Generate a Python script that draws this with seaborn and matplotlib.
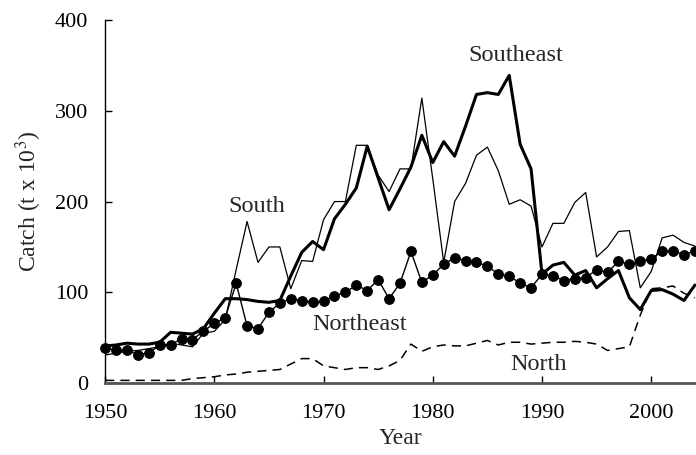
import numpy as np
import pandas as pd
import matplotlib
matplotlib.use("Agg")
import matplotlib.pyplot as plt
import seaborn as sns

years = list(range(1950, 2005))

southeast = [41, 42, 44, 43, 43, 45, 56, 55, 54, 60,
             77, 93, 93, 92, 90, 89, 91, 118, 144, 156,
             147, 181, 197, 215, 261, 226, 191, 214, 238, 273,
             243, 266, 250, 283, 318, 320, 318, 339, 263, 236,
             120, 130, 133, 119, 124, 105, 115, 124, 94, 81,
             102, 103, 98, 91, 108]

south = [31, 33, 35, 36, 38, 40, 44, 42, 40, 55,
         57, 70, 125, 178, 133, 150, 150, 104, 135, 134,
         180, 200, 200, 262, 262, 229, 211, 236, 236, 314,
         225, 133, 200, 220, 251, 260, 234, 197, 202, 195,
         150, 176, 176, 199, 210, 139, 150, 167, 168, 105,
         123, 160, 163, 155, 151]

northeast = [39, 36, 36, 31.5, 33, 42, 42, 49, 48, 57,
             66, 72, 110, 63, 60, 78, 88, 93, 91, 89,
             90, 96, 100, 108, 102, 114, 93, 110, 145, 111,
             119, 131, 138, 135, 133, 129, 120, 118, 110, 105,
             120, 118, 113, 115, 116, 125, 122, 134, 131, 134,
             137, 145, 146, 141, 146]

north = [3, 3, 3, 3, 3, 3, 3, 3, 5, 6,
         7, 9, 10, 12, 13, 14, 15, 21, 27, 27,
         19, 17, 15, 17, 17, 15, 19, 25, 43, 35,
         40, 42, 41, 41, 44, 47, 42, 45, 45, 43,
         44, 45, 45, 46, 45, 43, 36, 38, 40, 75,
         104, 105, 107, 99, 94]

region_labels = ["Southeast", "South", "Northeast", "North"]
label_pos = [(1987.6, 361), (1963.9, 195), (1973.3, 65), (1989.7, 21)]

sns.set_style("ticks")
plt.rcParams["font.family"] = ["Liberation Serif", "DejaVu Serif"]
plt.rcParams["mathtext.fontset"] = "stix"

fig, ax = plt.subplots(figsize=(6.96, 4.55), dpi=100)
fig.subplots_adjust(left=0.151, right=1.0, bottom=0.158, top=0.956)

sns.lineplot(x=years, y=south, color="black", linewidth=0.9, ax=ax)
sns.lineplot(x=years, y=southeast, color="black", linewidth=2.2, ax=ax)
sns.lineplot(x=years, y=north, color="black", linewidth=1.1, linestyle="--", ax=ax)
ax.lines[-1].set_dashes([6, 4])
sns.lineplot(x=years, y=northeast, color="black", linewidth=1.0, marker="o",
             markersize=7, markeredgecolor="black", ax=ax, clip_on=False)

for name, (x, y) in zip(region_labels, label_pos):
    ax.text(x, y, name, fontsize=17.5, ha="center", va="center")

ax.set_xlim(1950, 2004.1)
ax.set_ylim(0, 400)
ax.set_xticks(range(1950, 2001, 10))
ax.set_yticks(range(0, 401, 100))
ax.tick_params(axis="both", direction="in", length=5, width=1, labelsize=16,
               colors="black")
ax.tick_params(axis="x", pad=15)
ax.tick_params(axis="y", pad=12)

ax.set_xlabel("Year", fontsize=17, labelpad=4)
ax.set_ylabel("Catch (t x 10$^3$)", fontsize=17, labelpad=8)

sns.despine(ax=ax)
ax.spines["left"].set_linewidth(1.0)
ax.spines["left"].set_color("black")
ax.spines["bottom"].set_linewidth(2.0)
ax.spines["bottom"].set_color("#555555")

fig.savefig("out.png", dpi=100)
